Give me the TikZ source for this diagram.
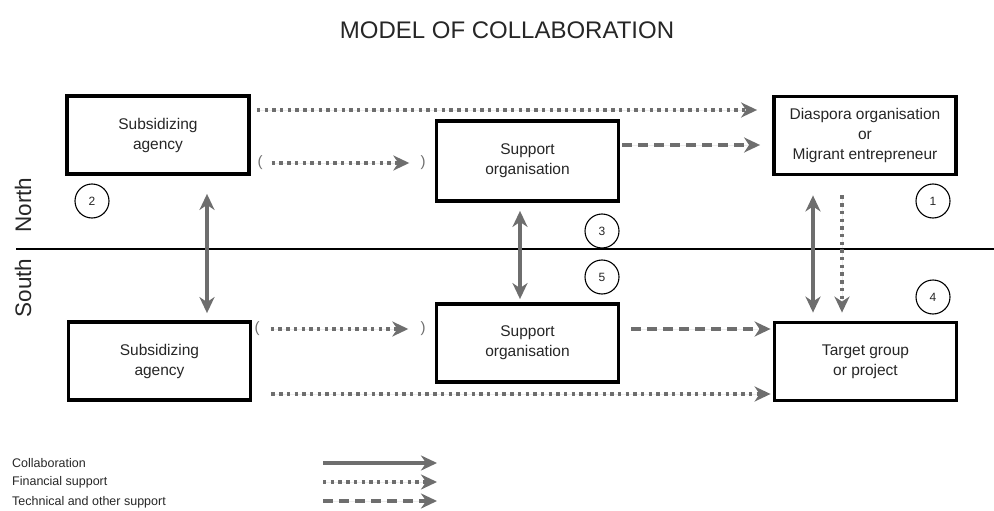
\documentclass[tikz,border=0pt]{standalone}
\usepackage{fontspec}
\setmainfont{Liberation Sans}
\usetikzlibrary{arrows.meta}
\definecolor{ag}{HTML}{6e6e6e}
\definecolor{tx}{HTML}{262626}
\begin{document}
\begin{tikzpicture}[x=1pt,y=-1pt,
  box/.style={draw=black, line width=3.8pt, minimum width=182pt, minimum height=78pt,
    align=center, inner sep=0pt, text=tx, font=\fontsize{15.5}{20}\selectfont},
  num/.style={circle, draw=black, line width=1.1pt, minimum size=34pt, inner sep=0pt,
    text=tx, font=\fontsize{12}{14}\selectfont},
  tipend/.style={-{Stealth[length=16pt,width=15pt,inset=5pt]}},
  tipboth/.style={{Stealth[length=16pt,width=15pt,inset=5pt]}-{Stealth[length=16pt,width=15pt,inset=5pt]}},
  coll/.style={draw=ag, fill=ag, line width=3.3pt},
  fin/.style={draw=ag, fill=ag, line width=3.3pt, dash pattern=on 3.4pt off 4.3pt},
  tech/.style={draw=ag, fill=ag, line width=3.3pt, dash pattern=on 10pt off 6pt},
  brk/.style={text=ag, inner sep=0pt, font=\fontsize{15}{17}\selectfont},
  side/.style={text=tx, rotate=90, inner sep=0pt, font=\fontsize{22.5}{26}\selectfont},
  leg/.style={text=tx, anchor=west, inner sep=0pt, font=\fontsize{12.5}{14}\selectfont}]
\useasboundingbox (0,0) rectangle (994,511);

% title
\node[text=tx, font=\fontsize{24}{28}\selectfont] (title) at (507,30) {MODEL OF COLLABORATION};

% divider
\coordinate (dl) at (16,249);
\coordinate (dr) at (994,249);
\draw[black, line width=1.3pt] (dl) -- (dr);
\node[side] (north) at (23,205) {North};
\node[side] (south) at (23,288) {South};

% boxes
\node[box] (SAN) at (158,135) {Subsidizing\\agency};
\node[box, minimum height=80pt] (SON) at (527.5,161) {Support\\organisation};
\node[box] (DIA) at (865,135.5) {Diaspora organisation\\or\\Migrant entrepreneur};
\node[box] (SAS) at (159.5,361) {Subsidizing\\agency};
\node[box] (SOS) at (527.5,343) {Support\\organisation};
\node[box] (TGT) at (865.5,361.5) {Target group\\or project};

% numbered circles
\node[num] (n1) at (933,201) {1};
\node[num] (n2) at (92,201) {2};
\node[num] (n3) at (602,231) {3};
\node[num] (n4) at (933,297) {4};
\node[num] (n5) at (602,277) {5};

% helper rows / columns
\coordinate (r110) at (0,110);
\coordinate (r145) at (0,145);
\coordinate (r329) at (0,329);
\coordinate (r394) at (0,394);
\coordinate (c207) at (207,0);
\coordinate (c520) at (520,0);
\coordinate (c813) at (813,0);
\coordinate (c842) at (842,0);

% north row
\draw[fin, tipend, shorten <=6pt, shorten >=15pt] (SAN.east |- r110) -- (DIA.west |- r110);
\node[brk] (lbN) at (260,163) {(};
\node[brk] (rbN) at (423,163) {)};
\draw[fin, tipend, shorten <=9pt, shorten >=11pt] (lbN) -- (rbN);
\draw[tech, tipend, shorten <=2pt, shorten >=12pt] (SON.east |- r145) -- (DIA.west |- r145);

% vertical collaboration arrows
\draw[coll, tipboth, shorten <=18pt, shorten >=7pt] (SAN.south -| c207) -- (SAS.north -| c207);
\draw[coll, tipboth, shorten <=8pt, shorten >=3pt] (SON.south -| c520) -- (SOS.north -| c520);
\draw[coll, tipboth, shorten <=19pt, shorten >=8pt] (DIA.south -| c813) -- (TGT.north -| c813);
\draw[fin, tipend, shorten <=19pt, shorten >=8pt] (DIA.south -| c842) -- (TGT.north -| c842);

% south row
\node[brk] (lbS) at (257,329) {(};
\node[brk] (rbS) at (423,329) {)};
\draw[fin, tipend, shorten <=11pt, shorten >=12pt] (lbS) -- (rbS);
\draw[tech, tipend, shorten <=11pt, shorten >=2pt] (SOS.east |- r329) -- (TGT.west |- r329);
\draw[fin, tipend, shorten <=19pt, shorten >=2pt] (SAS.east |- r394) -- (TGT.west |- r394);

% legend
\node[leg] (l1) at (12,463) {Collaboration};
\node[leg] (l2) at (12,482) {Financial support};
\node[leg] (l3) at (12,502) {Technical and other support};
\coordinate (a1s) at (323,463); \coordinate (a1e) at (437,463);
\coordinate (a2s) at (323,482); \coordinate (a2e) at (437,482);
\coordinate (a3s) at (323,501); \coordinate (a3e) at (437,501);
\draw[coll, tipend] (a1s) -- (a1e);
\draw[fin, tipend] (a2s) -- (a2e);
\draw[tech, tipend] (a3s) -- (a3e);
\end{tikzpicture}
\end{document}
